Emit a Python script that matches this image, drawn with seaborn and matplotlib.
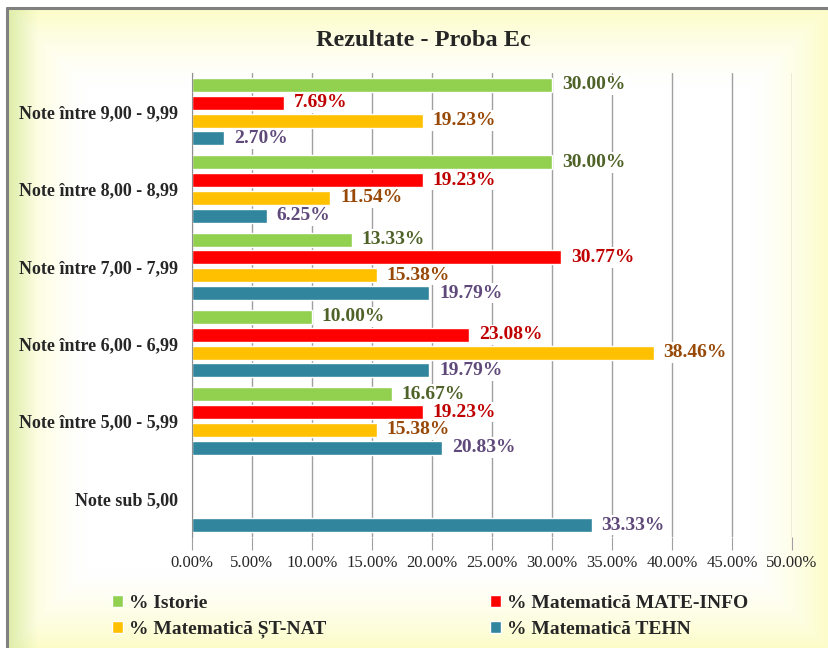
import numpy as np
import pandas as pd
import matplotlib
matplotlib.use('Agg')
import matplotlib.pyplot as plt
import seaborn as sns
from matplotlib.patches import Patch
from matplotlib.ticker import FuncFormatter

sns.set_style("white")
plt.rcParams['font.family'] = ['Liberation Serif', 'DejaVu Serif']

# date
categorii = ['Note între 9,00 - 9,99', 'Note între 8,00 - 8,99', 'Note între 7,00 - 7,99',
             'Note între 6,00 - 6,99', 'Note între 5,00 - 5,99', 'Note sub 5,00']
serii = ['% Istorie', '% Matematică MATE-INFO', '% Matematică ȘT-NAT', '% Matematică TEHN']
istorie = [30.00, 30.00, 13.33, 10.00, 16.67, np.nan]
mate_info = [7.69, 19.23, 30.77, 23.08, 19.23, np.nan]
st_nat = [19.23, 11.54, 15.38, 38.46, 15.38, np.nan]
tehn = [2.70, 6.25, 19.79, 19.79, 20.83, 33.33]

culori_bare = ['#92D050', '#FF0000', '#FFC000', '#31859C']
culori_text = ['#4F6228', '#C00000', '#984807', '#5F497A']

df = pd.DataFrame({
    'categorie': categorii * 4,
    'serie': np.repeat(serii, len(categorii)),
    'valoare': istorie + mate_info + st_nat + tehn,
})

fig = plt.figure(figsize=(8.29, 6.48), dpi=100)

# fundal cu gradient
bg = fig.add_axes([0, 0, 1, 1], zorder=-10)
H, W = 648, 829
yy, xx = np.mgrid[0:H, 0:W]
d = np.minimum.reduce([xx - 8, W - xx, yy - 8, H - yy]).astype(float)
a = np.clip(1 - d / 80, 0, 1) ** 1.5
margine = np.array([0.99, 0.99, 0.78])
img = np.ones((H, W, 3)) * (1 - a[..., None]) + margine * a[..., None]
stanga = np.clip(1 - (xx - 8) / 30, 0, 1)[..., None]
img = img - stanga * np.array([0.12, 0.06, 0.12])
img[:8, :, :] = 1
img[:, :7, :] = 1
bg.imshow(np.clip(img, 0, 1), aspect='auto', extent=[0, W, H, 0])
bg.plot([7, 7], [8, H], color='#808080', lw=2.2)
bg.plot([7, W], [8, 8], color='#808080', lw=2.2)
bg.set_xlim(0, W); bg.set_ylim(H, 0)
bg.axis('off')

ax = fig.add_axes([192 / 829, 1 - 537 / 648, 600 / 829, 464 / 648])
ax.set_facecolor('none')
sns.barplot(data=df, y='categorie', x='valoare', hue='serie', orient='h',
            order=categorii, hue_order=serii, palette=culori_bare, saturation=1,
            width=0.92, gap=0.21, errorbar=None, legend=False, ax=ax)

for cont, cul in zip(ax.containers, culori_text):
    etichete = []
    for r in cont:
        w = r.get_width()
        etichete.append('' if (np.isnan(w) or w == 0) else f'{w:.2f}%')
    ax.bar_label(cont, labels=etichete, padding=7, color=cul, fontsize=14,
                 fontweight='bold',
                 bbox=dict(facecolor='white', edgecolor='none', pad=1.2))

ax.set_xlim(0, 50)
ax.set_xticks(np.arange(0, 51, 5))
ax.xaxis.set_major_formatter(FuncFormatter(lambda v, p: f'{v:.2f}%'))
ax.grid(axis='x', color='#A0A0A0', linewidth=1)
ax.set_axisbelow(True)
ax.set_xlabel('')
ax.set_ylabel('')
for s in ['top', 'right', 'bottom']:
    ax.spines[s].set_visible(False)
ax.spines['left'].set_color('#909090')
ax.tick_params(axis='x', length=9, color='#A0A0A0', labelsize=12, pad=4, bottom=True)
ax.tick_params(axis='y', length=0, labelsize=13, pad=10)
for t in ax.get_yticklabels():
    t.set_fontweight('bold')

fig.text(0.511, 0.938, 'Rezultate - Proba Ec', ha='center', va='center',
         fontsize=17.5, fontweight='bold')

handles = [Patch(facecolor=c, label=s) for c, s in zip(culori_bare, serii)]
ordine = [0, 2, 1, 3]
fig.legend([handles[i] for i in ordine], [serii[i] for i in ordine],
           loc='upper left', bbox_to_anchor=(112 / 829, 1 - 595 / 648), ncol=2,
           frameon=False, borderpad=0, borderaxespad=0,
           prop={'weight': 'bold', 'size': 14}, handlelength=0.55, handleheight=0.55,
           handletextpad=0.3, columnspacing=8.45, labelspacing=0.45)

plt.savefig('out.png', dpi=100)
